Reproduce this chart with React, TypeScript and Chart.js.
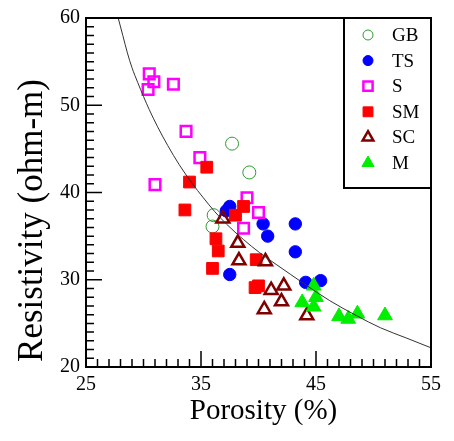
import React, { useEffect, useRef } from "react";
import { Chart, registerables } from "chart.js";
import { drawPoint } from "chart.js/helpers";

Chart.register(...registerables);

// Axis ranges and tick labels
const X_MIN = 25;
const X_MAX = 55;
const Y_MIN = 20;
const Y_MAX = 60;
const xTicks = [25, 35, 45, 55];
const yTicks = [20, 30, 40, 50, 60];

// Series (porosity %, resistivity ohm-m)
const gbX = [37.7, 39.2, 36.1, 36.0];
const gbY = [45.6, 42.3, 37.4, 36.1];

const tsX = [37.5, 37.2, 40.4, 40.8, 43.2, 43.2, 37.5, 44.1, 45.4];
const tsY = [38.4, 37.9, 36.4, 35.0, 36.4, 33.2, 30.6, 29.7, 29.9];

const sX = [30.5, 30.9, 30.4, 32.6, 33.7, 34.9, 31.0, 39.0, 40.0, 38.7];
const sY = [53.6, 52.7, 51.8, 52.4, 47.0, 44.0, 40.9, 39.4, 37.7, 35.9];

const smX = [35.5, 34.0, 33.6, 38.7, 38.0, 36.3, 36.5, 36.0, 39.8, 39.7, 40.0];
const smY = [42.9, 41.2, 38.0, 38.4, 37.4, 34.7, 33.3, 31.3, 32.3, 29.1, 29.3];

const scX = [36.9, 38.2, 38.3, 40.6, 41.1, 42.2, 42.0, 40.5, 44.2];
const scY = [37.0, 34.2, 32.2, 32.1, 28.8, 29.3, 27.5, 26.6, 25.9];

const mX = [44.8, 45.0, 43.8, 44.8, 47.0, 47.8, 48.6, 51.0];
const mY = [29.3, 28.0, 27.4, 26.9, 25.8, 25.5, 26.1, 25.9];

// Fitted trend curve
const curveX = [27.8, 28.2, 28.6, 29.0, 29.5, 30.0, 30.5, 31.2, 32.1, 33.1, 34.2, 35.2, 36.2, 37.2, 38.7, 40.1, 41.6, 42.8, 43.9, 46.2, 48.5, 50.6, 52.9, 55];
const curveY = [60, 58.0, 56.0, 54.3, 52.6, 51.0, 49.5, 47.6, 45.4, 43.2, 41.1, 39.4, 37.8, 36.4, 34.6, 33.1, 31.7, 30.6, 29.6, 27.6, 25.9, 24.5, 23.3, 22.2];

const FONT = '"Liberation Serif", "Times New Roman", serif';

const zip = (xs: number[], ys: number[]) => xs.map((x, i) => ({ x, y: ys[i] }));

type Series = {
  label: string;
  xs: number[];
  ys: number[];
  style: string;
  radius: number;
  legendRadius: number;
  fill: string;
  stroke: string;
  width: number;
};

const series: Series[] = [
  { label: "GB", xs: gbX, ys: gbY, style: "circle", radius: 6.5, legendRadius: 5, fill: "rgba(0,0,0,0)", stroke: "#2f9a2f", width: 1 },
  { label: "TS", xs: tsX, ys: tsY, style: "circle", radius: 6.2, legendRadius: 5, fill: "#0000ff", stroke: "#0000ff", width: 1 },
  { label: "S", xs: sX, ys: sY, style: "rect", radius: 7.5, legendRadius: 6.5, fill: "rgba(0,0,0,0)", stroke: "#ff00ff", width: 2.5 },
  { label: "SM", xs: smX, ys: smY, style: "rect", radius: 8.3, legendRadius: 7, fill: "#ff0000", stroke: "#ff0000", width: 1 },
  { label: "SC", xs: scX, ys: scY, style: "triangle", radius: 7.5, legendRadius: 6.2, fill: "rgba(0,0,0,0)", stroke: "#800000", width: 2.5 },
  { label: "M", xs: mX, ys: mY, style: "triangle", radius: 8.5, legendRadius: 7, fill: "#00ee00", stroke: "#00ee00", width: 1 },
];

const framePlugin = {
  id: "frame",
  afterDatasetsDraw(chart: any) {
    const { ctx, chartArea, scales } = chart;
    const { left, right, top, bottom } = chartArea;
    const xs = scales.x;
    const ys = scales.y;
    ctx.save();
    ctx.strokeStyle = "#000";
    ctx.lineWidth = 1.5;
    ctx.beginPath();
    for (let v = X_MIN; v <= X_MAX; v += 1) {
      const px = xs.getPixelForValue(v);
      const len = xTicks.includes(v) ? 16 : 8;
      ctx.moveTo(px, bottom);
      ctx.lineTo(px, bottom - len);
    }
    for (let v = Y_MIN; v <= Y_MAX; v += 1) {
      const py = ys.getPixelForValue(v);
      const len = yTicks.includes(v) ? 16 : 8;
      ctx.moveTo(left, py);
      ctx.lineTo(left + len, py);
    }
    ctx.stroke();

    // legend box (inside plot, top-right)
    const bw = 87;
    const bh = 170;
    const bx = right - bw;
    const by = top;
    ctx.fillStyle = "#fff";
    ctx.fillRect(bx, by, bw, bh);
    ctx.lineWidth = 2;
    ctx.strokeRect(bx, by, bw, bh);
    series.forEach((s, i) => {
      const cy = by + 17 + i * 25.6;
      ctx.fillStyle = s.fill;
      ctx.strokeStyle = s.stroke;
      ctx.lineWidth = s.width;
      drawPoint(ctx, { pointStyle: s.style as any, radius: s.legendRadius, rotation: 0, borderWidth: s.width }, bx + 24, cy);
      ctx.fillStyle = "#000";
      ctx.font = `19px ${FONT}`;
      ctx.textAlign = "left";
      ctx.textBaseline = "middle";
      ctx.fillText(s.label, bx + 48, cy + 1);
    });

    // plot frame
    ctx.strokeStyle = "#000";
    ctx.lineWidth = 2;
    ctx.strokeRect(left, top, right - left, bottom - top);
    ctx.restore();
  },
  afterDraw(chart: any) {
    const { ctx, chartArea } = chart;
    ctx.save();
    ctx.fillStyle = "#000";
    ctx.font = `29px ${FONT}`;
    ctx.textAlign = "center";
    ctx.textBaseline = "alphabetic";
    ctx.fillText("Porosity (%)", (chartArea.left + chartArea.right) / 2 + 5, 419);
    ctx.translate(42, chart.height / 2);
    ctx.rotate(-Math.PI / 2);
    ctx.font = `35px ${FONT}`;
    ctx.fillText("Resistivity (ohm-m)", 0, 0);
    ctx.restore();
  },
};

export default function App() {
  const ref = useRef<HTMLCanvasElement | null>(null);

  useEffect(() => {
    if (!ref.current) return;
    const datasets: any[] = [
      {
        label: "fit",
        data: zip(curveX, curveY),
        showLine: true,
        pointRadius: 0,
        borderColor: "#333",
        borderWidth: 1,
        cubicInterpolationMode: "monotone",
        order: 0,
      },
      ...series.map((s, i) => ({
        label: s.label,
        data: zip(s.xs, s.ys),
        pointStyle: s.style,
        pointRadius: s.radius,
        pointBackgroundColor: s.fill,
        pointBorderColor: s.stroke,
        pointBorderWidth: s.width,
        showLine: false,
        order: series.length - i,
      })),
    ];
    const chart = new Chart(ref.current, {
      type: "scatter",
      data: { datasets },
      plugins: [framePlugin],
      options: {
        animation: false,
        responsive: true,
        maintainAspectRatio: false,
        layout: { padding: { top: 15, right: 23, left: 0, bottom: 0 } },
        plugins: { legend: { display: false }, tooltip: { enabled: false } },
        scales: {
          x: {
            type: "linear",
            min: X_MIN,
            max: X_MAX,
            afterBuildTicks: (scale: any) => {
              scale.ticks = xTicks.map((v) => ({ value: v }));
            },
            afterFit: (scale: any) => {
              scale.height = 74;
            },
            grid: { display: false, drawTicks: false },
            border: { display: false },
            ticks: { padding: 6, color: "#000", font: { family: FONT, size: 20 }, maxRotation: 0 },
          },
          y: {
            type: "linear",
            min: Y_MIN,
            max: Y_MAX,
            afterBuildTicks: (scale: any) => {
              scale.ticks = yTicks.map((v) => ({ value: v }));
            },
            afterFit: (scale: any) => {
              scale.width = 86;
            },
            grid: { display: false, drawTicks: false },
            border: { display: false },
            ticks: { padding: 6, color: "#000", font: { family: FONT, size: 20 } },
          },
        },
      },
    });
    return () => chart.destroy();
  }, []);

  return (
    <div style={{ position: "fixed", left: 0, top: 0, width: 454, height: 441, background: "#fff" }}>
      <canvas ref={ref} />
    </div>
  );
}
